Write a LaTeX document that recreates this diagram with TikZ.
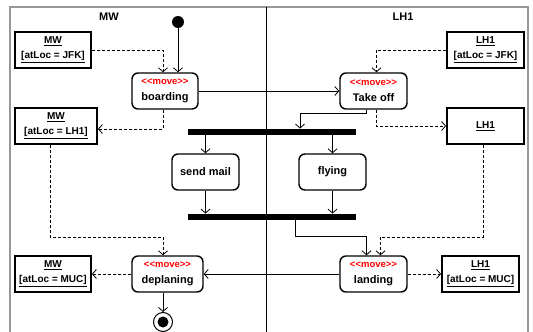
\documentclass[tikz,border=0pt]{standalone}
\usepackage{fontspec}
\setmainfont{Liberation Sans}
\usetikzlibrary{arrows.meta}

\newcommand\mv{{\color{red}\fontsize{9.5}{11}\selectfont <\kern0pt<move>\kern0pt>}}

\begin{document}
\begin{tikzpicture}[x=1pt,y=-1pt,line width=0.8pt,>={Straight Barb[length=4pt,width=9pt]},
  action/.style={draw,line width=1.4pt,rounded corners=6pt,minimum width=67pt,minimum height=36pt,
    inner sep=0pt,align=center,font=\fontsize{11}{16}\selectfont\bfseries},
  object/.style={draw,line width=1.8pt,minimum height=36pt,inner sep=0pt,align=center,
    font=\fontsize{10}{15}\selectfont\bfseries},
  bar/.style={fill,minimum width=168pt,minimum height=6pt,inner sep=0pt},
  objflow/.style={->,dash pattern=on 3pt off 2pt}]
  \useasboundingbox (0,0) rectangle (533,332);
  % lanes
  \draw[gray!80,line width=1.5pt] (10,332) -- (10,7) -- (528,7) -- (528,332);
  \draw (266,7) -- (266,332);
  \node[font=\fontsize{11}{13}\selectfont\bfseries] (mw) at (109,17) {MW};
  \node[font=\fontsize{11}{13}\selectfont\bfseries] (lh) at (403,17) {LH1};
  % nodes
  \node[circle,fill,minimum size=12pt,inner sep=0pt] (start) at (178,22) {};
  \node[object,minimum width=76pt] (mwjfk) at (53,50) {\underline{MW}\\\underline{[atLoc = JFK]}};
  \node[object,minimum width=82pt] (mwlh1) at (56,126) {\underline{MW}\\\underline{[atLoc = LH1]}};
  \node[object,minimum width=76pt] (mwmuc) at (53,274) {\underline{MW}\\\underline{[atLoc = MUC]}};
  \node[object,minimum width=77pt] (lh1jfk) at (485.5,50) {\underline{LH1}\\\underline{[atLoc = JFK]}};
  \node[object,minimum width=77pt] (lh1) at (485.5,126) {\underline{LH1}};
  \node[object,minimum width=77pt] (lh1muc) at (480.5,274) {\underline{LH1}\\\underline{[atLoc = MUC]}};
  \node[action,minimum width=66pt] (boarding) at (165,91) {\mv\\boarding};
  \node[action] (takeoff) at (373.5,91) {\mv\\Take off};
  \node[bar] (fork) at (272,132) {};
  \node[action] (sendmail) at (205.5,172) {send mail};
  \node[action] (flying) at (332.5,172) {flying};
  \node[bar] (join) at (272,217) {};
  \node[action,minimum width=71pt] (deplaning) at (167.5,274) {\mv\\deplaning};
  \node[action] (landing) at (373.5,274) {\mv\\landing};
  \node[circle,draw,fill=white,line width=1pt,minimum size=19pt,inner sep=0pt] (final) at (163,322) {};
  \fill (final) circle (5.5pt);
  % control flow
  \draw[->] (start) -- (start |- boarding.north);
  \draw[->] (boarding) -- (takeoff);
  \draw[->] ([xshift=-7pt]takeoff.south) -- ++(0,4) -| ([xshift=28pt]fork.north);
  \draw[->] (sendmail |- fork.south) -- (sendmail);
  \draw[->] (flying |- fork.south) -- (flying);
  \draw[->] (sendmail) -- (sendmail |- join.north);
  \draw[->] (flying) -- (flying |- join.north);
  \draw[->] ([xshift=23pt]join.south) -- ++(0,16) -| ([xshift=-7pt]landing.north);
  \draw[->] (landing) -- (deplaning);
  \draw[->] (final |- deplaning.south) -- (final);
  % object flow
  \draw[objflow] (mwjfk.east) -| ([xshift=-2pt]boarding.north);
  \draw[objflow] ([xshift=-2pt]boarding.south) |- ([yshift=-3pt]mwlh1.east);
  \draw[objflow] ([xshift=-6pt]mwlh1.south) -- ++(0,92) -| ([xshift=-4.5pt]deplaning.north);
  \draw[objflow] (deplaning) -- (mwmuc);
  \draw[objflow] (lh1jfk.west) -| ([xshift=3pt]takeoff.north);
  \draw[objflow] ([xshift=3pt]takeoff.south) |- (lh1.west);
  \draw[objflow] ([xshift=-2.5pt]lh1.south) -- ++(0,92) -| ([xshift=7pt]landing.north);
  \draw[objflow] (landing) -- (lh1muc);
\end{tikzpicture}
\end{document}
